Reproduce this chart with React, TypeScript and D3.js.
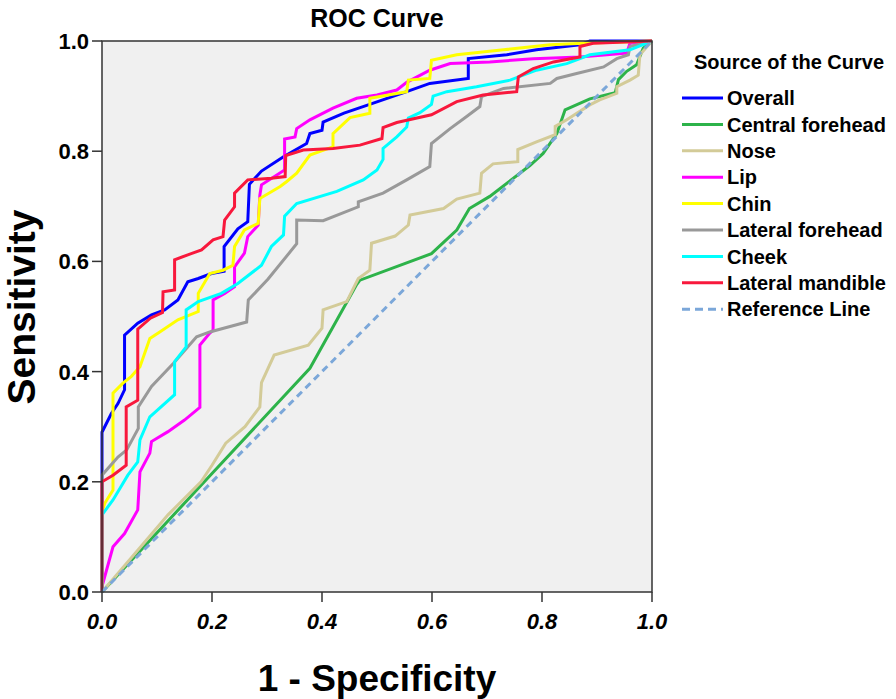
import React from 'react';
import { scaleLinear, line } from 'd3';

// [1 - specificity, sensitivity]
const overall: [number, number][] = [
  [0, 0], [0, 0.29], [0.017, 0.324], [0.029, 0.342], [0.041, 0.367], [0.041, 0.466], [0.065, 0.488],
  [0.09, 0.503], [0.114, 0.512], [0.138, 0.53], [0.156, 0.563], [0.175, 0.569], [0.199, 0.578],
  [0.222, 0.582], [0.222, 0.627], [0.247, 0.659], [0.265, 0.672], [0.268, 0.74], [0.29, 0.764],
  [0.33, 0.79], [0.372, 0.814], [0.378, 0.832], [0.4, 0.838], [0.402, 0.853], [0.44, 0.869],
  [0.484, 0.884], [0.554, 0.908], [0.596, 0.923], [0.666, 0.932], [0.666, 0.968], [0.736, 0.975],
  [0.79, 0.984], [0.869, 0.993], [0.887, 1], [1, 1],
];
const centralForehead: [number, number][] = [
  [0, 0], [0.2, 0.215], [0.378, 0.406], [0.463, 0.558], [0.469, 0.566], [0.599, 0.614],
  [0.645, 0.657], [0.668, 0.696], [0.705, 0.718], [0.778, 0.774], [0.802, 0.796], [0.827, 0.832],
  [0.842, 0.875], [0.887, 0.895], [0.933, 0.906], [0.939, 0.93], [0.954, 0.945], [0.972, 0.957],
  [0.984, 0.987], [1, 1],
];
const nose: [number, number][] = [
  [0, 0], [0.06, 0.07], [0.12, 0.14], [0.18, 0.2], [0.2, 0.23], [0.225, 0.27], [0.26, 0.3],
  [0.287, 0.336], [0.29, 0.38], [0.313, 0.43], [0.375, 0.448], [0.4, 0.479], [0.402, 0.512],
  [0.445, 0.527], [0.466, 0.569], [0.487, 0.584], [0.49, 0.633], [0.533, 0.646], [0.557, 0.666],
  [0.56, 0.684], [0.621, 0.696], [0.645, 0.713], [0.687, 0.724], [0.69, 0.76], [0.711, 0.777],
  [0.756, 0.781], [0.756, 0.803], [0.79, 0.817], [0.824, 0.83], [0.824, 0.845], [0.845, 0.857],
  [0.887, 0.884], [0.905, 0.893], [0.936, 0.905], [0.936, 0.917], [0.96, 0.929], [0.975, 0.938],
  [0.978, 0.975], [1, 1],
];
const lip: [number, number][] = [
  [0, 0], [0, 0.01], [0.02, 0.082], [0.041, 0.106], [0.065, 0.149], [0.069, 0.218], [0.087, 0.252],
  [0.09, 0.273], [0.12, 0.291], [0.15, 0.312], [0.178, 0.335], [0.178, 0.448], [0.196, 0.47],
  [0.202, 0.475], [0.202, 0.53], [0.223, 0.542], [0.241, 0.554], [0.241, 0.59], [0.259, 0.615],
  [0.265, 0.645], [0.284, 0.666], [0.287, 0.72], [0.29, 0.739], [0.332, 0.766], [0.332, 0.822],
  [0.351, 0.826], [0.354, 0.841], [0.378, 0.857], [0.42, 0.878], [0.463, 0.896], [0.5, 0.902],
  [0.536, 0.911], [0.554, 0.925], [0.596, 0.947], [0.633, 0.959], [0.705, 0.962], [0.784, 0.968],
  [0.869, 0.971], [0.954, 0.978], [0.96, 0.996], [1, 1],
];
const chin: [number, number][] = [
  [0, 0], [0, 0.145], [0.005, 0.161], [0.02, 0.185], [0.02, 0.361], [0.038, 0.379], [0.053, 0.391],
  [0.069, 0.409], [0.087, 0.46], [0.105, 0.472], [0.138, 0.494], [0.175, 0.509], [0.175, 0.542],
  [0.196, 0.578], [0.22, 0.584], [0.238, 0.593], [0.241, 0.627], [0.259, 0.657], [0.284, 0.669],
  [0.287, 0.714], [0.324, 0.736], [0.336, 0.745], [0.354, 0.76], [0.378, 0.793], [0.42, 0.808],
  [0.42, 0.832], [0.451, 0.861], [0.487, 0.869], [0.487, 0.896], [0.554, 0.908], [0.557, 0.929],
  [0.596, 0.932], [0.599, 0.965], [0.645, 0.975], [0.73, 0.984], [0.815, 0.993], [0.875, 0.996],
  [1, 1],
];
const lateralForehead: [number, number][] = [
  [0, 0], [0, 0.212], [0.029, 0.245], [0.045, 0.258], [0.066, 0.297], [0.066, 0.336], [0.09, 0.373],
  [0.13, 0.415], [0.172, 0.463], [0.196, 0.472], [0.263, 0.49], [0.266, 0.53], [0.302, 0.568],
  [0.354, 0.632], [0.354, 0.675], [0.402, 0.674], [0.466, 0.699], [0.466, 0.708], [0.511, 0.724],
  [0.554, 0.748], [0.596, 0.772], [0.599, 0.814], [0.633, 0.841], [0.663, 0.863], [0.687, 0.881],
  [0.69, 0.899], [0.73, 0.914], [0.815, 0.923], [0.827, 0.932], [0.863, 0.941], [0.912, 0.953],
  [0.936, 0.968], [0.957, 0.975], [0.96, 0.99], [1, 1],
];
const cheek: [number, number][] = [
  [0, 0], [0, 0.14], [0.02, 0.167], [0.047, 0.212], [0.065, 0.236], [0.069, 0.276], [0.087, 0.318],
  [0.132, 0.358], [0.132, 0.418], [0.153, 0.445], [0.153, 0.512], [0.175, 0.527], [0.217, 0.542],
  [0.247, 0.56], [0.29, 0.593], [0.308, 0.627], [0.33, 0.648], [0.332, 0.682], [0.354, 0.705],
  [0.427, 0.727], [0.475, 0.748], [0.5, 0.766], [0.511, 0.785], [0.511, 0.805], [0.536, 0.826],
  [0.554, 0.844], [0.557, 0.86], [0.578, 0.87], [0.599, 0.885], [0.602, 0.9], [0.627, 0.908],
  [0.681, 0.917], [0.742, 0.929], [0.79, 0.947], [0.845, 0.959], [0.887, 0.975], [0.96, 0.984],
  [1, 1],
];
const lateralMandible: [number, number][] = [
  [0, 0], [0, 0.2], [0.02, 0.212], [0.044, 0.23], [0.044, 0.336], [0.065, 0.348], [0.065, 0.477],
  [0.088, 0.497], [0.11, 0.507], [0.111, 0.545], [0.132, 0.548], [0.132, 0.603], [0.156, 0.612],
  [0.181, 0.621], [0.202, 0.639], [0.22, 0.645], [0.223, 0.675], [0.241, 0.699], [0.241, 0.724],
  [0.265, 0.748], [0.308, 0.751], [0.333, 0.754], [0.334, 0.792], [0.366, 0.802], [0.42, 0.805],
  [0.469, 0.811], [0.509, 0.823], [0.511, 0.843], [0.536, 0.852], [0.599, 0.866], [0.645, 0.89],
  [0.693, 0.902], [0.754, 0.908], [0.757, 0.935], [0.784, 0.95], [0.821, 0.962], [0.869, 0.971],
  [0.869, 0.99], [0.893, 0.996], [1, 1],
];
const reference: [number, number][] = [[0, 0], [1, 1]];

const seriesNames = ['Overall', 'Central forehead', 'Nose', 'Lip', 'Chin', 'Lateral forehead', 'Cheek', 'Lateral mandible'];
const seriesData = [overall, centralForehead, nose, lip, chin, lateralForehead, cheek, lateralMandible];
const seriesColors = ['#0000ff', '#2db34a', '#d3cb98', '#ff00ff', '#ffff00', '#999999', '#00ffff', '#f8183c'];
const ticks = [0, 0.2, 0.4, 0.6, 0.8, 1.0];

const font = '"Liberation Sans", Arial, sans-serif';

const App = () => {
  const width = 896;
  const height = 699;
  const left = 102, right = 652, top = 41, bottom = 592;

  const x = scaleLinear().domain([0, 1]).range([left, right]);
  const y = scaleLinear().domain([0, 1]).range([bottom, top]);
  const path = line<[number, number]>().x(d => x(d[0])).y(d => y(d[1]));

  const legendX = 682;
  const legendY = 98;
  const legendStep = 26.4;

  return (
    <div style={{ position: 'absolute', left: 0, top: 0 }}>
      <svg width={width} height={height} style={{ display: 'block', background: '#fff' }}>
        <text x={377} y={27} textAnchor="middle" fontFamily={font} fontWeight="bold" fontSize={25}>ROC Curve</text>

        {/* plot area */}
        <rect x={left} y={top} width={right - left} height={bottom - top} fill="#f0f0f0" />

        {seriesData.map((d, i) => (
          <path key={seriesNames[i]} d={path(d) || ''} fill="none" stroke={seriesColors[i]}
            strokeWidth={3} strokeLinejoin="miter" />
        ))}
        <path d={path(reference) || ''} fill="none" stroke="#7ba7d9" strokeWidth={3}
          strokeDasharray="7 5" />

        <rect x={left} y={top} width={right - left} height={bottom - top} fill="none"
          stroke="#333" strokeWidth={1.5} />

        {/* y axis */}
        {ticks.map(t => (
          <g key={'y' + t}>
            <line x1={left - 10} x2={left} y1={y(t)} y2={y(t)} stroke="#333" strokeWidth={1.5} />
            <text x={left - 13} y={y(t)} dy="0.36em" textAnchor="end" fontFamily={font}
              fontWeight="bold" fontSize={22}>{t.toFixed(1)}</text>
          </g>
        ))}
        {/* x axis */}
        {ticks.map(t => (
          <g key={'x' + t}>
            <line x1={x(t)} x2={x(t)} y1={bottom} y2={bottom + 10} stroke="#333" strokeWidth={1.5} />
            <text x={x(t)} y={bottom + 37} textAnchor="middle" fontFamily={font}
              fontWeight="bold" fontStyle="italic" fontSize={22}>{t.toFixed(1)}</text>
          </g>
        ))}

        <text x={377} y={691} textAnchor="middle" fontFamily={font} fontWeight="bold" fontSize={37}>1 - Specificity</text>
        <text transform={`translate(35,307) rotate(-90)`} textAnchor="middle"
          fontFamily={font} fontWeight="bold" fontSize={39}>Sensitivity</text>

        {/* legend */}
        <text x={789} y={69} textAnchor="middle" fontFamily={font} fontWeight="bold" fontSize={20}>Source of the Curve</text>
        {seriesNames.map((name, i) => (
          <g key={name} transform={`translate(${legendX},${legendY + i * legendStep})`}>
            <line x1={0} x2={41} y1={0} y2={0} stroke={seriesColors[i]} strokeWidth={3} />
            <text x={45} y={0} dy="0.36em" fontFamily={font} fontWeight="bold" fontSize={20}>{name}</text>
          </g>
        ))}
        <g transform={`translate(${legendX},${legendY + seriesNames.length * legendStep})`}>
          <line x1={0} x2={41} y1={0} y2={0} stroke="#7ba7d9" strokeWidth={3} strokeDasharray="8 5" />
          <text x={45} y={0} dy="0.36em" fontFamily={font} fontWeight="bold" fontSize={20}>Reference Line</text>
        </g>
      </svg>
    </div>
  );
};

export default App;
